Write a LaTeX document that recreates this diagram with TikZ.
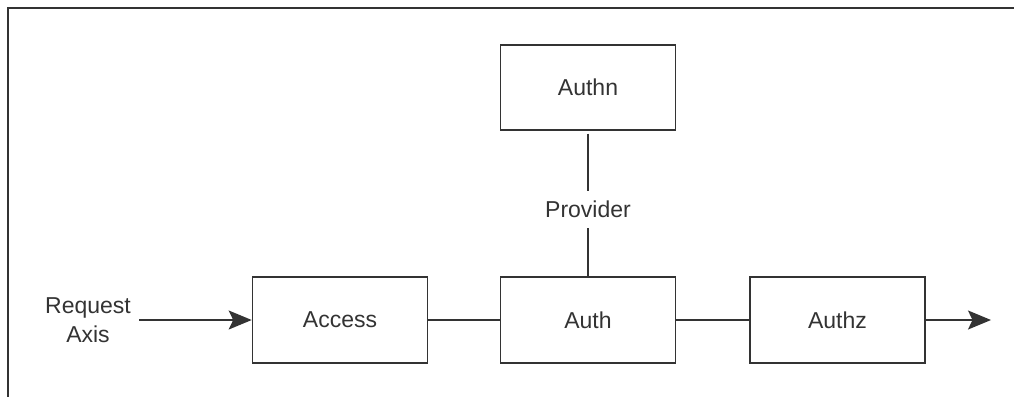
\documentclass[tikz,border=0pt]{standalone}
\usepackage{fontspec}
\setmainfont{Liberation Sans}
\usetikzlibrary{arrows.meta}
\definecolor{ink}{HTML}{333333}
\begin{document}
\begin{tikzpicture}[x=1pt,y=-1pt,
    every node/.style={font=\fontsize{23}{29}\selectfont, text=ink},
    block/.style={draw=ink, line width=1.6pt, minimum width=175pt, minimum height=85.5pt, inner sep=0pt},
    link/.style={draw=ink, line width=1.6pt},
    flow/.style={link, -{Stealth[length=23pt, width=19pt, inset=4.5pt]}},
    frame/.style={draw=ink, line width=1.6pt}]
  \useasboundingbox (0,0) rectangle (1014,397);
  % outer frame (top and left edges)
  \draw[frame] (1014,8) -- (8,8) -- (8,397);

  % blocks
  \node[block] (access) at (340,320) {Access};
  \node[block] (auth)   at (588,320) {Auth};
  \node[block] (authz)  at (837.5,320) {Authz};
  \node[block] (authn)  at (588,87.5) {Authn};

  % labels
  \node[align=center, inner xsep=8pt, inner ysep=0pt] (req) at (88,320) {Request\\Axis};
  \node[inner xsep=4pt, inner ysep=10pt] (prov) at (588,209.5) {Provider};
  \coordinate (out) at (991,320);

  % connectors
  \draw[flow] (req.east) -- (access.west);
  \draw[link] (access.east) -- (auth.west);
  \draw[link] (auth.east) -- (authz.west);
  \draw[flow] (authz.east) -- (out);
  \draw[link, shorten <=2.5pt] (authn.south) -- (prov.north);
  \draw[link] (prov.south) -- (auth.north);
\end{tikzpicture}
\end{document}
